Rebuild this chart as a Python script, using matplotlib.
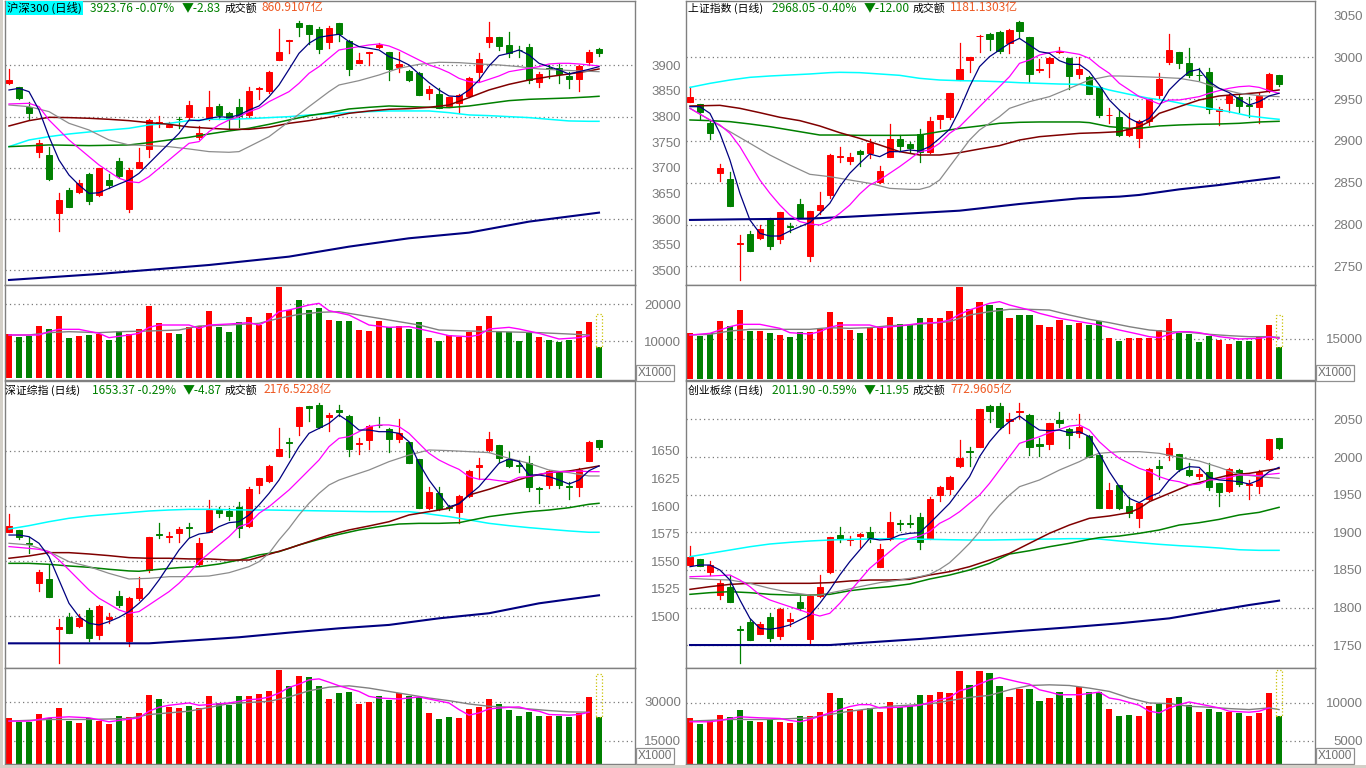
import matplotlib
matplotlib.use("Agg")
import matplotlib.pyplot as plt
from matplotlib.patches import Rectangle

plt.rcParams["font.family"] = ["Liberation Sans", "Noto Sans CJK SC", "DejaVu Sans"]

W, H = 1366, 768
RED = "#FF0000"
GREEN = "#008000"
FRAME = "#808080"
LABEL = "#7A7A7A"
AMOUNT = "#EE5A24"
CJK = ["Noto Sans CJK SC", "DejaVu Sans"]

# ---------------- 沪深300 ----------------
hs_open = [3864.9, 3857.1, 3819.4, 3731.7, 3725.1, 3611.4, 3656.9, 3653.7, 3688.1, 3647.2,
           3676.4, 3713.5, 3619.9, 3700.5, 3737.5, 3787.6, 3780.4, 3796.0, 3798.6, 3759.6,
           3795.3, 3820.7, 3806.4, 3818.1, 3803.2, 3853.2, 3849.9, 3910.4, 3946.8, 3982.5,
           3978.7, 3970.9, 3946.2, 3982.5, 3947.5, 3905.2, 3924.7, 3935.1, 3926.0, 3897.4,
           3889.6, 3885.0, 3845.4, 3844.1, 3820.7, 3825.9, 3840.8, 3887.6, 3946.2, 3954.6,
           3939.7, 3930.6, 3935.1, 3868.2, 3895.5, 3894.1, 3879.2, 3873.4, 3906.5, 3931.9]
hs_high = [3892.9, 3858.0, 3829.1, 3754.4, 3741.4, 3651.7, 3660.2, 3676.4, 3690.7, 3700.5,
           3688.1, 3720.0, 3699.2, 3738.2, 3794.7, 3801.2, 3790.2, 3799.9, 3831.1, 3781.7,
           3850.6, 3824.6, 3809.7, 3833.7, 3857.1, 3857.1, 3888.3, 3970.2, 3949.4, 3986.4,
           3978.7, 3975.4, 3976.7, 3982.5, 3949.4, 3923.4, 3926.6, 3942.9, 3926.0, 3926.6,
           3890.9, 3886.3, 3860.4, 3855.1, 3838.9, 3844.1, 3876.6, 3923.4, 3984.5, 3955.9,
           3964.4, 3937.7, 3941.6, 3887.6, 3900.7, 3902.6, 3887.6, 3900.0, 3929.9, 3933.2]
hs_low = [3863.0, 3833.7, 3794.7, 3721.9, 3676.4, 3577.6, 3624.0, 3650.4, 3629.6, 3645.2,
          3660.2, 3682.9, 3614.7, 3699.2, 3721.9, 3780.4, 3779.1, 3777.2, 3793.4, 3755.7,
          3793.4, 3794.7, 3777.2, 3780.4, 3799.9, 3833.7, 3846.7, 3910.4, 3924.7, 3957.2,
          3941.6, 3924.7, 3934.5, 3948.1, 3881.1, 3905.2, 3900.0, 3934.5, 3871.4, 3887.6,
          3870.1, 3842.1, 3834.4, 3816.2, 3819.4, 3807.7, 3838.9, 3870.1, 3936.4, 3929.9,
          3916.9, 3915.6, 3866.2, 3858.4, 3874.6, 3864.9, 3855.1, 3850.6, 3900.7, 3918.9]
hs_close = [3871.4, 3837.0, 3807.7, 3747.9, 3677.7, 3637.4, 3624.4, 3671.2, 3636.1, 3699.2,
            3667.3, 3684.9, 3695.9, 3711.5, 3793.4, 3789.5, 3783.7, 3794.7, 3822.0, 3768.7,
            3818.1, 3803.2, 3794.7, 3801.2, 3849.9, 3855.8, 3887.0, 3926.0, 3948.8, 3975.4,
            3961.8, 3932.5, 3972.8, 3960.5, 3892.9, 3910.4, 3926.0, 3939.0, 3892.2, 3902.6,
            3871.4, 3842.8, 3853.9, 3817.5, 3837.6, 3842.8, 3874.6, 3911.7, 3954.6, 3938.4,
            3924.7, 3929.3, 3871.4, 3883.1, 3893.5, 3883.1, 3873.4, 3898.7, 3926.59, 3923.76]
hs_vol = [11973, 11162, 11432, 14135, 13324, 16838, 10892, 11432, 11703, 11973,
          10351, 12784, 11973, 13405, 19540, 14946, 12243, 11973, 13865, 14135,
          18189, 13865, 12514, 15216, 16568, 14405, 17649, 24676, 18459, 21162,
          18459, 19000, 15757, 15486, 15486, 13054, 12784, 15486, 13865, 14135,
          13324, 15216, 10892, 10081, 11703, 11162, 12514, 14135, 16838, 12514,
          12514, 10081, 12243, 11162, 10351, 9811, 10351, 12784, 15216, 8459]
hs_ma5 = [3851.9, 3855.1, 3848.6, 3812.8, 3760.8, 3715.3, 3686.0, 3666.5, 3650.2, 3651.5,
          3660.0, 3668.5, 3676.3, 3689.3, 3708.8, 3728.3, 3747.8, 3767.3, 3793.3, 3792.0,
          3796.6, 3799.8, 3798.5, 3803.1, 3812.8, 3820.7, 3838.9, 3861.6, 3892.2, 3923.4,
          3942.9, 3954.6, 3957.9, 3960.5, 3946.2, 3936.4, 3933.2, 3929.9, 3916.9, 3910.4,
          3900.7, 3883.1, 3866.2, 3851.9, 3840.2, 3838.9, 3851.9, 3871.4, 3898.7, 3918.9,
          3923.4, 3929.9, 3920.2, 3903.9, 3897.4, 3890.9, 3883.1, 3887.6, 3892.2, 3897.4]
hs_ma10_i = [0] + list(range(2, 60))
hs_ma10 = [3824.6, 3825.9, 3819.4, 3793.4, 3773.9, 3754.4, 3738.2, 3721.9, 3705.7, 3692.7,
           3679.7, 3673.2, 3671.2, 3682.9, 3699.2, 3715.4, 3731.7, 3747.9, 3751.2, 3770.7,
           3783.7, 3793.4, 3799.9, 3809.7, 3816.2, 3829.1, 3838.9, 3848.6, 3864.9, 3884.4,
           3897.4, 3913.7, 3929.9, 3933.2, 3936.4, 3939.7, 3941.6, 3937.7, 3929.9, 3920.2,
           3910.4, 3900.7, 3894.2, 3885.7, 3874.6, 3868.2, 3866.2, 3872.7, 3879.2, 3887.6,
           3890.9, 3894.2, 3897.4, 3902.6, 3903.9, 3903.9, 3902.6, 3900.7, 3898.7]
hs_ma20_i = [0, 2, 4, 6, 8, 10, 12, 14, 16, 18, 20, 22, 23, 24, 26, 28, 30, 32, 33, 35,
             37, 39, 41, 43, 45, 47, 49, 51, 53, 55, 57, 59]
hs_ma20 = [3822.6, 3819.4, 3809.7, 3786.9, 3773.9, 3754.4, 3744.7, 3743.4, 3741.4, 3736.9,
           3731.7, 3730.4, 3731.7, 3741.4, 3760.9, 3790.2, 3819.4, 3848.6, 3861.6, 3870.1,
           3881.1, 3894.2, 3901.9, 3905.9, 3905.2, 3902.6, 3900.7, 3897.4, 3892.9, 3890.9,
           3889.0, 3887.6]
hs_mar_i = list(range(0, 60, 2)) + [59]
hs_mar = [3781.7, 3792.1, 3798.6, 3798.0, 3796.7, 3794.7, 3792.1, 3788.2, 3785.0, 3779.8,
          3777.2, 3775.2, 3775.2, 3779.1, 3786.9, 3792.1, 3798.6, 3806.4, 3810.9, 3814.2,
          3815.5, 3818.1, 3822.6, 3837.0, 3851.9, 3862.9, 3871.4, 3877.9, 3883.1, 3889.0,
          3892.9]
hs_mag_i = [0, 4, 8] + list(range(12, 60, 2)) + [59]
hs_mag = [3741.4, 3744.7, 3743.4, 3744.7, 3749.2, 3754.4, 3759.6, 3766.1, 3772.0, 3777.2,
          3784.9, 3793.4, 3801.9, 3807.7, 3814.9, 3818.1, 3820.7, 3819.4, 3818.1, 3817.5,
          3820.7, 3825.9, 3831.1, 3833.7, 3835.0, 3836.3, 3838.3, 3839.6]
hs_mac_i = list(range(0, 60, 2)) + [59]
hs_mac = [3741.4, 3754.4, 3760.9, 3766.1, 3770.0, 3773.9, 3777.2, 3783.7, 3786.9, 3792.1,
          3794.7, 3794.7, 3796.0, 3798.0, 3799.9, 3803.2, 3805.1, 3807.7, 3809.7, 3811.0,
          3811.0, 3811.0, 3807.7, 3803.2, 3801.9, 3799.9, 3798.0, 3794.7, 3791.5, 3790.8,
          3790.8]
hs_mal_i = [0, 9, 20, 28, 34, 40, 46, 52, 59]
hs_mal = [3481.4, 3493.1, 3510.6, 3526.9, 3546.4, 3562.7, 3573.7, 3595.2, 3612.7]
hs_vma5_i = [0, 3, 4, 5, 7, 9, 10, 12, 13, 14, 15, 18, 19, 20, 22, 24, 25, 26, 27, 28,
             30, 31, 32, 34, 36, 38, 40, 42, 44, 46, 47, 48, 50, 51, 53, 55, 57, 58]
hs_vma5 = [11703, 11703, 12604, 13234, 13234, 12154, 10982, 11703, 12154, 13775,
           14405, 14405, 13505, 14405, 14676, 15036, 14405, 15757, 18009, 18459,
           19811, 20261, 18279, 17108, 14405, 13775, 13955, 12784, 11523, 11252,
           11703, 13324, 13775, 13324, 12154, 10622, 10982, 11523]
hs_vma10_i = [0, 2, 4, 6, 9, 11, 14, 17, 19, 22, 25, 27, 29, 31, 33, 35, 38, 41, 43, 46,
              49, 53, 56, 58]
hs_vma10 = [11703, 11703, 12333, 12604, 12333, 12604, 12784, 13054, 14135, 14405,
            14857, 16208, 17289, 17829, 18009, 17108, 15757, 14405, 13054, 12784,
            12604, 12333, 11973, 11703]

# ---------------- 上证指数 ----------------
sh_open = [2947.0, 2943.8, 2921.9, 2862.1, 2854.1, 2776.8, 2788.3, 2783.5, 2806.7, 2782.3,
           2797.9, 2824.2, 2762.8, 2817.4, 2835.4, 2880.8, 2876.0, 2888.4, 2885.2, 2850.9,
           2880.4, 2901.9, 2896.4, 2907.9, 2887.2, 2926.7, 2928.3, 2972.9, 2997.2, 3025.1,
           3027.9, 3030.3, 3017.6, 3042.3, 3023.9, 2985.3, 2992.8, 3006.4, 2998.8, 2980.1,
           2976.9, 2964.1, 2930.6, 2928.3, 2907.1, 2903.1, 2924.3, 2955.0, 2994.8, 3006.0,
           2993.6, 2979.3, 2982.9, 2936.2, 2945.8, 2953.0, 2943.0, 2941.0, 2961.0, 2978.9]
sh_high = [2964.9, 2943.8, 2925.1, 2872.4, 2863.3, 2787.5, 2792.3, 2799.5, 2807.5, 2815.4,
           2802.3, 2830.2, 2816.6, 2839.3, 2884.4, 2893.2, 2885.2, 2889.2, 2901.9, 2870.4,
           2919.9, 2907.1, 2899.2, 2913.9, 2929.1, 2931.0, 2957.8, 3016.8, 3000.8, 3026.7,
           3028.7, 3031.5, 3033.5, 3043.5, 3023.9, 2997.6, 3000.0, 3012.8, 2998.8, 3000.0,
           2977.7, 2964.9, 2939.0, 2937.0, 2933.0, 2925.1, 2951.8, 2980.9, 3027.5, 3006.8,
           3010.8, 2986.9, 2986.9, 2941.0, 2956.2, 2956.2, 2953.0, 2957.0, 2980.9, 2978.9]
sh_low = [2947.0, 2926.7, 2902.7, 2852.1, 2822.6, 2733.7, 2768.8, 2782.3, 2770.8, 2777.5,
          2791.5, 2808.6, 2756.8, 2812.6, 2831.4, 2875.2, 2872.4, 2870.4, 2880.0, 2849.3,
          2880.4, 2889.2, 2887.2, 2875.2, 2885.2, 2915.1, 2925.9, 2972.9, 2982.9, 3006.8,
          3008.8, 3004.8, 3005.6, 3024.7, 2970.9, 2982.9, 2976.1, 3004.8, 2961.7, 2974.9,
          2956.2, 2929.1, 2921.9, 2906.3, 2905.9, 2892.4, 2919.1, 2949.8, 2992.0, 2987.7,
          2976.9, 2972.9, 2933.8, 2919.1, 2935.0, 2935.0, 2928.3, 2921.1, 2959.0, 2965.7]
sh_close = [2952.2, 2934.6, 2909.9, 2867.3, 2822.6, 2777.5, 2768.8, 2794.7, 2774.8, 2814.6,
            2797.1, 2808.6, 2816.2, 2823.4, 2883.2, 2881.6, 2880.4, 2884.0, 2897.2, 2864.1,
            2901.9, 2894.4, 2892.0, 2887.2, 2923.9, 2930.6, 2957.0, 2986.1, 3000.0, 3025.9,
            3022.0, 3008.0, 3032.7, 3031.9, 2980.1, 2986.1, 2998.8, 3007.2, 2978.1, 2985.7,
            2956.2, 2931.0, 2931.4, 2907.1, 2915.1, 2924.3, 2949.8, 2974.1, 3008.8, 2992.8,
            2978.9, 2978.5, 2938.6, 2938.2, 2954.2, 2941.8, 2942.2, 2954.2, 2980.05, 2968.05]
sh_vol = [17233, 16240, 17233, 21699, 19838, 25793, 18101, 17977, 17233, 16488,
          15744, 17605, 17605, 18845, 25049, 21327, 18473, 17233, 19466, 19466,
          23188, 20583, 20210, 22816, 22816, 22816, 25421, 34354, 26166, 28894,
          27654, 26538, 22816, 23932, 23932, 20210, 19466, 22071, 20210, 20955,
          20210, 21699, 15372, 14255, 15372, 15372, 15372, 18349, 22443, 17233,
          16861, 13883, 16116, 14627, 13138, 14255, 14255, 16116, 20210, 12022]
sh_ma5 = [2941.0, 2941.0, 2933.0, 2909.1, 2877.2, 2837.4, 2805.5, 2789.5, 2786.3, 2786.3,
          2792.3, 2797.5, 2802.3, 2813.4, 2825.4, 2845.3, 2861.3, 2873.2, 2884.4, 2881.2,
          2887.2, 2887.2, 2889.2, 2888.0, 2893.2, 2903.1, 2913.9, 2937.0, 2964.9, 2988.9,
          3000.8, 3008.8, 3016.8, 3022.7, 3014.8, 3006.8, 3004.8, 2996.0, 2991.6, 2991.6,
          2982.9, 2966.9, 2949.0, 2937.0, 2927.1, 2921.1, 2927.1, 2941.8, 2961.0, 2972.9,
          2982.9, 2985.7, 2970.9, 2963.0, 2957.8, 2949.8, 2943.0, 2947.0, 2953.8, 2957.0]
sh_ma10_i = [0] + list(range(2, 60))
sh_ma10 = [2939.0, 2925.1, 2919.1, 2909.1, 2893.2, 2873.2, 2853.3, 2837.4, 2823.4, 2811.4,
           2803.5, 2800.7, 2799.5, 2804.7, 2813.4, 2823.4, 2836.6, 2847.3, 2853.3, 2861.3,
           2869.3, 2878.0, 2887.2, 2889.2, 2897.2, 2909.1, 2917.1, 2929.1, 2941.0, 2953.0,
           2964.9, 2976.9, 2992.8, 2996.8, 3002.8, 3005.6, 3007.6, 3005.6, 3003.6, 2998.8,
           2988.9, 2980.9, 2968.9, 2961.0, 2953.0, 2949.0, 2944.2, 2949.0, 2949.0, 2951.0,
           2953.0, 2957.0, 2960.2, 2963.0, 2964.9, 2965.7, 2964.1, 2960.2, 2957.0]
sh_ma20_i = [0, 2, 4, 6, 8, 10, 12, 14, 16, 18, 20, 22, 23, 24, 25, 26, 27, 28, 29, 30,
             31, 32, 33, 34, 36, 38, 40, 42, 43, 45, 47, 49, 51, 53, 55, 57, 59]
sh_ma20 = [2939.0, 2925.1, 2911.1, 2897.2, 2883.2, 2871.2, 2860.1, 2857.3, 2853.3, 2849.3,
           2843.3, 2842.1, 2842.1, 2845.3, 2853.3, 2869.3, 2885.2, 2901.1, 2913.1, 2921.1,
           2929.1, 2939.0, 2943.0, 2947.0, 2953.0, 2962.9, 2972.9, 2977.7, 2977.7, 2976.9,
           2976.1, 2974.9, 2970.9, 2962.9, 2957.0, 2954.2, 2953.0]
sh_mar_i = [0, 3, 5, 7, 9, 11, 13, 15, 17, 19, 21, 23, 25, 27, 29, 31, 33, 35, 37, 39,
            41, 43, 45, 46, 47, 49, 51, 53, 55, 57, 59]
sh_mar = [2941.8, 2942.6, 2939.0, 2933.8, 2928.3, 2924.3, 2917.9, 2909.9, 2903.1, 2895.2,
          2887.2, 2883.2, 2883.2, 2886.0, 2890.4, 2894.4, 2901.1, 2905.1, 2907.1, 2909.1,
          2909.9, 2911.1, 2917.1, 2923.1, 2933.0, 2941.0, 2949.0, 2953.8, 2955.8, 2957.8,
          2961.0]
sh_mag_i = [0, 2, 4, 6, 8, 10, 12, 13, 15, 17, 19, 21, 23, 25, 27, 29, 31, 33, 35, 37,
            39, 40, 42, 44, 45, 47, 49, 51, 53, 55, 57, 59]
sh_mag = [2925.1, 2924.3, 2923.1, 2920.3, 2917.1, 2913.1, 2909.1, 2907.1, 2907.1, 2906.7,
          2906.7, 2906.7, 2907.1, 2911.1, 2915.1, 2917.9, 2921.1, 2922.3, 2922.7, 2922.7,
          2922.7, 2921.9, 2917.1, 2915.1, 2915.1, 2917.9, 2919.1, 2919.9, 2920.3, 2921.1,
          2922.7, 2923.5]
sh_mac_i = [0, 2, 4, 6, 8, 10, 12, 14, 15, 17, 19, 21, 23, 25, 27, 29, 31, 33, 35, 37,
            39, 41, 42, 44, 46, 48, 50, 52, 54, 56, 58, 59]
sh_mac = [2964.1, 2968.9, 2972.9, 2976.1, 2977.7, 2978.9, 2980.1, 2981.7, 2982.1, 2981.7,
          2980.1, 2978.5, 2974.9, 2972.9, 2972.1, 2971.7, 2970.9, 2969.7, 2968.9, 2968.1,
          2967.7, 2964.1, 2960.9, 2955.8, 2951.0, 2947.8, 2943.0, 2939.0, 2935.0, 2929.9,
          2927.1, 2925.9]
sh_mal_i = [0, 5, 12, 16, 21, 27, 33, 39, 43, 45, 49, 53, 56, 59]
sh_mal = [2805.5, 2806.3, 2807.1, 2809.4, 2812.6, 2816.6, 2824.6, 2831.4, 2833.4, 2835.4,
          2842.1, 2847.3, 2852.1, 2856.5]
sh_vma5_i = [0, 2, 4, 5, 7, 9, 10, 12, 13, 14, 15, 18, 19, 21, 23, 25, 26, 27, 28, 30,
             31, 32, 34, 35, 37, 39, 41, 43, 45, 46, 47, 48, 49, 50, 51, 53, 55, 57, 58, 59]
sh_vma5 = [16488, 17109, 19590, 20459, 20459, 18970, 17357, 16861, 17729, 19343,
           20210, 20210, 19218, 19838, 20831, 21203, 22071, 24181, 25793, 28275,
           28894, 27654, 25793, 24554, 22692, 21451, 20210, 18349, 16737, 15868,
           15496, 16737, 17729, 17729, 17357, 15868, 15000, 15248, 15868, 15248]
sh_vma10_i = list(range(0, 60, 2)) + [59]
sh_vma10 = [16488, 16737, 17977, 18597, 18597, 18597, 18597, 19218, 18970, 19218,
            19962, 20210, 20831, 21451, 23932, 25172, 26041, 26041, 25793, 23932,
            22320, 21079, 19590, 18349, 17729, 17481, 16737, 16240, 15868, 15868, 15620]

# ---------------- 深证综指 ----------------
sz_open = [1576.8, 1578.3, 1566.8, 1529.9, 1533.8, 1488.7, 1499.0, 1491.2, 1505.7, 1483.0,
           1497.8, 1518.4, 1477.8, 1516.6, 1542.0, 1575.0, 1571.6, 1575.9, 1580.7, 1547.4,
           1576.8, 1596.4, 1595.8, 1598.8, 1581.9, 1619.1, 1623.0, 1645.7, 1658.4, 1672.7,
           1690.8, 1691.7, 1680.5, 1687.2, 1681.7, 1656.0, 1660.0, 1673.9, 1670.2, 1661.2,
           1658.4, 1643.0, 1597.9, 1611.6, 1599.4, 1594.9, 1609.1, 1635.8, 1650.9, 1655.4,
           1642.7, 1636.9, 1638.8, 1616.7, 1619.1, 1630.6, 1618.2, 1617.6, 1641.2, 1659.9]
sz_high = [1592.8, 1578.3, 1572.2, 1542.0, 1546.5, 1497.2, 1502.7, 1502.1, 1507.2, 1509.9,
           1502.7, 1523.2, 1517.2, 1535.9, 1572.2, 1584.3, 1576.8, 1581.3, 1584.9, 1570.7,
           1605.5, 1599.4, 1597.9, 1604.0, 1617.0, 1625.8, 1637.3, 1670.5, 1661.5, 1690.2,
           1690.8, 1693.2, 1684.8, 1691.7, 1682.3, 1661.5, 1673.6, 1680.5, 1671.1, 1678.7,
           1658.4, 1643.0, 1617.6, 1617.6, 1601.0, 1610.0, 1632.7, 1643.3, 1667.5, 1655.4,
           1649.4, 1641.8, 1645.4, 1617.6, 1632.7, 1631.2, 1622.1, 1634.2, 1659.0, 1659.9]
sz_low = [1576.8, 1569.8, 1557.1, 1523.2, 1517.8, 1457.9, 1484.5, 1490.6, 1477.8, 1479.6,
          1494.2, 1508.7, 1473.3, 1514.8, 1540.5, 1570.7, 1567.7, 1567.7, 1572.2, 1546.5,
          1576.8, 1590.4, 1587.4, 1571.6, 1581.3, 1611.5, 1622.1, 1645.4, 1644.8, 1664.5,
          1677.5, 1670.5, 1668.4, 1681.7, 1645.4, 1647.2, 1652.1, 1672.1, 1648.8, 1658.4,
          1638.8, 1598.5, 1597.0, 1596.4, 1596.4, 1584.9, 1608.5, 1624.3, 1649.4, 1640.3,
          1635.1, 1631.2, 1614.0, 1603.1, 1616.1, 1616.1, 1606.1, 1609.4, 1640.9, 1651.8]
sz_close = [1581.9, 1572.2, 1565.6, 1539.9, 1517.8, 1489.9, 1484.5, 1498.4, 1480.0, 1509.3,
            1499.0, 1509.9, 1516.3, 1525.6, 1572.2, 1574.0, 1573.1, 1579.2, 1580.1, 1566.8,
            1596.4, 1594.0, 1591.0, 1579.8, 1615.2, 1625.2, 1636.4, 1651.5, 1657.5, 1689.6,
            1688.7, 1672.1, 1682.6, 1685.7, 1652.1, 1657.5, 1672.7, 1673.3, 1660.9, 1666.0,
            1639.4, 1598.5, 1612.5, 1597.0, 1597.9, 1609.1, 1632.1, 1637.3, 1660.6, 1643.3,
            1636.4, 1636.4, 1617.6, 1615.8, 1631.8, 1619.1, 1617.0, 1632.7, 1658.24, 1653.37]
sz_vol = [23719, 22052, 22309, 25514, 23847, 27821, 22437, 21668, 23591, 22437,
          21283, 24744, 23975, 25898, 32821, 31283, 28206, 27821, 28590, 27821,
          32436, 29744, 28975, 32436, 32436, 33206, 34359, 42436, 36282, 40128,
          39744, 36282, 31283, 33590, 33975, 29359, 30129, 32436, 30898, 33590,
          32436, 32052, 25898, 23206, 23975, 23591, 27437, 28206, 31283, 29359,
          27052, 24360, 26283, 24360, 24744, 24744, 23975, 25898, 32052, 23975]
sz_ma5 = [1573.7, 1573.7, 1572.2, 1566.2, 1554.1, 1532.9, 1511.7, 1499.6, 1493.6, 1492.1,
          1495.1, 1499.0, 1504.2, 1511.7, 1520.8, 1532.9, 1546.5, 1560.1, 1570.7, 1574.6,
          1575.9, 1581.3, 1584.9, 1585.8, 1591.9, 1601.0, 1611.5, 1623.6, 1638.8, 1653.9,
          1666.0, 1670.5, 1675.1, 1682.6, 1676.6, 1669.0, 1669.0, 1667.5, 1667.5, 1666.0,
          1658.4, 1638.8, 1623.6, 1611.5, 1599.4, 1601.9, 1610.0, 1617.6, 1628.2, 1638.8,
          1642.7, 1640.3, 1628.2, 1628.2, 1626.7, 1623.6, 1620.0, 1623.6, 1632.1, 1636.4]
sz_ma10_i = [0] + list(range(2, 60))
sz_ma10 = [1563.2, 1561.6, 1560.7, 1558.6, 1551.0, 1542.0, 1532.9, 1523.8, 1516.3, 1511.1,
           1505.7, 1502.7, 1504.2, 1510.2, 1516.3, 1522.3, 1529.9, 1538.9, 1549.5, 1557.1,
           1564.7, 1572.2, 1581.3, 1584.3, 1593.4, 1599.4, 1607.0, 1614.6, 1623.6, 1632.7,
           1641.8, 1653.9, 1661.5, 1663.0, 1667.5, 1672.1, 1673.6, 1673.6, 1672.1, 1666.0,
           1656.9, 1647.9, 1641.8, 1637.3, 1633.3, 1626.7, 1624.3, 1624.3, 1623.0, 1622.1,
           1626.1, 1626.7, 1628.8, 1630.3, 1631.2, 1631.2, 1631.8, 1631.2, 1631.2]
sz_ma20_i = [0, 2, 4, 6, 8, 10, 12, 14, 16, 18, 20, 22, 24, 25, 26, 27, 28, 29, 30, 31,
             32, 33, 34, 36, 38, 40, 42, 44, 46, 48, 50, 52, 54, 56, 58, 59]
sz_ma20 = [1566.2, 1564.7, 1558.6, 1549.5, 1545.0, 1538.9, 1533.8, 1534.4, 1535.9, 1535.9,
           1536.5, 1539.5, 1545.0, 1549.5, 1557.1, 1569.2, 1579.8, 1591.9, 1602.5, 1611.5,
           1619.1, 1623.6, 1626.7, 1632.7, 1640.3, 1646.3, 1650.9, 1650.3, 1649.4, 1648.5,
           1643.3, 1638.8, 1632.7, 1630.3, 1627.3, 1627.3]
sz_mar_i = list(range(0, 46, 2)) + [45, 46, 48, 50, 52, 54, 56, 58, 59]
sz_mar = [1552.6, 1554.7, 1557.7, 1557.7, 1556.5, 1555.0, 1553.2, 1552.6, 1552.6, 1552.0,
          1552.0, 1551.0, 1551.0, 1556.2, 1561.6, 1567.7, 1573.7, 1578.3, 1581.9, 1585.8,
          1591.9, 1594.9, 1597.9, 1602.5, 1610.0, 1615.2, 1621.2, 1626.7, 1630.3, 1631.8,
          1634.8, 1636.4]
sz_mag_i = [0, 2, 4, 6, 8, 10, 12, 13, 15, 17, 19, 21, 23, 25, 27, 29, 31, 33, 35, 37,
            39, 41, 43, 45, 46, 48, 50, 52, 54, 56, 58, 59]
sz_mag = [1548.0, 1548.0, 1547.1, 1545.6, 1544.4, 1542.6, 1541.1, 1540.8, 1542.6, 1544.1,
          1545.0, 1547.4, 1551.0, 1555.6, 1558.6, 1564.7, 1569.8, 1574.3, 1578.3, 1581.3,
          1583.7, 1584.3, 1584.3, 1584.9, 1586.8, 1590.4, 1592.8, 1594.9, 1596.4, 1598.5,
          1601.6, 1602.5]
sz_mac_i = list(range(0, 42, 2)) + [41] + list(range(42, 60, 2)) + [59]
sz_mac = [1579.2, 1582.2, 1585.8, 1588.9, 1591.0, 1592.5, 1594.0, 1595.5, 1596.4, 1597.0,
          1597.0, 1596.7, 1596.4, 1596.4, 1596.1, 1595.8, 1595.5, 1595.2, 1594.9, 1594.9,
          1594.9, 1594.0, 1592.8, 1590.4, 1587.4, 1584.3, 1582.2, 1580.4, 1578.9, 1577.4,
          1576.2, 1576.2]
sz_mal_i = [0, 14, 18, 23, 28, 33, 38, 43, 48, 53, 56, 59]
sz_mal = [1475.4, 1475.4, 1477.8, 1480.9, 1485.1, 1489.0, 1492.1, 1498.1, 1502.7, 1511.7,
          1515.4, 1519.0]
sz_vma5_i = [0, 2, 3, 4, 6, 8, 10, 11, 13, 14, 15, 16, 18, 19, 20, 22, 24, 25, 26, 27,
             28, 29, 30, 31, 32, 33, 35, 36, 37, 39, 40, 41, 42, 44, 45, 46, 47, 48, 50, 51,
             52, 53, 54, 56, 57, 58]
sz_vma5 = [22565, 22565, 23206, 23847, 24232, 23847, 22309, 22822, 23847, 26411,
           27949, 28718, 29616, 28718, 28975, 29616, 30898, 31155, 31924, 33462,
           35641, 36923, 38590, 38974, 37693, 36282, 34103, 32180, 31539, 31155,
           31539, 31924, 31155, 29616, 27052, 24872, 25770, 27308, 27949, 28077,
           27052, 26411, 25129, 24872, 25129, 26026]
sz_vma10_i = [0, 4, 8, 12, 14, 18, 22, 26, 28, 30, 32, 34, 36, 38, 40, 42, 44, 46, 48, 50,
              52, 54, 56, 58]
sz_vma10 = [22565, 23206, 23206, 23591, 25129, 26411, 29359, 30257, 31924, 34359,
            35770, 36282, 35385, 34103, 32821, 31539, 30513, 29231, 28334, 27949,
            27308, 26667, 26155, 26026]

# ---------------- 创业板综 ----------------
cy_open = [1856.6, 1864.1, 1847.8, 1816.8, 1827.0, 1771.6, 1780.5, 1765.0, 1787.1, 1762.4,
           1782.7, 1807.9, 1757.9, 1815.5, 1847.8, 1896.4, 1889.8, 1895.5, 1900.0, 1854.4,
           1890.7, 1912.4, 1912.4, 1919.9, 1891.1, 1949.5, 1957.1, 1988.5, 2008.4, 2013.7,
           2067.7, 2067.7, 2048.2, 2059.7, 2055.7, 2017.2, 2017.2, 2049.1, 2036.7, 2031.4,
           2027.9, 2002.6, 1931.8, 1962.8, 1934.9, 1918.6, 1943.8, 1988.0, 2002.6, 2004.0,
           1982.7, 1975.2, 1980.1, 1965.9, 1955.3, 1982.7, 1963.0, 1961.5, 1996.9, 2024.8]
cy_high = [1882.3, 1864.1, 1861.9, 1836.7, 1843.3, 1775.6, 1784.5, 1781.4, 1792.4, 1799.1,
           1792.4, 1815.5, 1816.8, 1843.3, 1894.2, 1906.6, 1895.1, 1899.5, 1907.5, 1884.0,
           1926.5, 1916.4, 1923.0, 1926.1, 1947.3, 1961.5, 1974.8, 2022.6, 2013.7, 2064.1,
           2069.0, 2071.2, 2058.8, 2071.2, 2056.6, 2024.8, 2045.6, 2059.3, 2038.0, 2057.1,
           2029.2, 2002.6, 1965.0, 1962.8, 1947.3, 1940.7, 1984.9, 1996.0, 2018.1, 2004.0,
           1992.5, 1983.6, 1991.6, 1965.9, 1984.9, 1984.5, 1969.5, 1982.7, 2023.4, 2025.6]
cy_low = [1856.6, 1855.3, 1843.3, 1811.0, 1807.9, 1727.0, 1757.0, 1765.0, 1756.2, 1757.9,
          1775.6, 1796.9, 1753.5, 1814.6, 1845.5, 1886.7, 1883.2, 1881.0, 1887.6, 1853.5,
          1889.8, 1903.1, 1906.6, 1877.4, 1890.7, 1942.0, 1950.9, 1987.2, 1988.0, 2013.7,
          2046.9, 2037.2, 2032.3, 2051.3, 2002.6, 2001.3, 2010.6, 2040.3, 2012.4, 2026.1,
          2000.4, 1931.8, 1931.8, 1930.5, 1920.8, 1907.5, 1942.0, 1970.3, 1996.0, 1981.8,
          1974.8, 1970.3, 1956.2, 1934.9, 1954.0, 1961.5, 1943.8, 1952.6, 1996.0, 2010.2]
cy_close = [1866.8, 1855.7, 1856.6, 1832.3, 1807.9, 1770.3, 1757.0, 1777.9, 1759.3, 1798.2,
            1784.5, 1799.1, 1815.9, 1827.0, 1893.3, 1890.7, 1891.1, 1897.8, 1892.9, 1877.9,
            1913.3, 1911.0, 1911.0, 1887.6, 1944.2, 1960.6, 1973.9, 1998.2, 2007.1, 2063.3,
            2061.5, 2040.2, 2050.0, 2060.6, 2013.7, 2014.6, 2044.7, 2045.6, 2029.2, 2040.3,
            2000.4, 1931.8, 1956.2, 1931.8, 1925.2, 1939.4, 1983.6, 1984.9, 2011.5, 1983.6,
            1976.1, 1977.0, 1960.6, 1954.0, 1983.6, 1963.7, 1963.9, 1979.6, 2023.85, 2011.90]
cy_vol = [7956, 7174, 7695, 8478, 8087, 9130, 7565, 7434, 7695, 7434,
          7304, 8348, 8217, 8869, 11348, 10695, 9261, 9130, 9391, 8869,
          10174, 9522, 9652, 11087, 11087, 11478, 11348, 14217, 12391, 14217,
          13956, 12261, 10826, 11869, 11869, 10304, 10695, 11478, 10695, 12130,
          11478, 11478, 9261, 8217, 8478, 8217, 9652, 9913, 10695, 10826,
          9782, 8869, 9261, 8869, 8869, 8739, 8348, 8739, 11348, 8348]
cy_ma5 = [1854.4, 1856.6, 1856.6, 1850.0, 1836.7, 1810.2, 1785.8, 1772.5, 1771.2, 1773.4,
          1777.0, 1783.6, 1790.2, 1805.7, 1823.4, 1843.3, 1861.0, 1876.5, 1892.0, 1889.8,
          1890.7, 1896.4, 1898.7, 1899.5, 1911.9, 1925.2, 1938.5, 1956.2, 1973.9, 2000.4,
          2020.3, 2035.8, 2046.9, 2054.4, 2044.7, 2035.8, 2034.9, 2035.8, 2032.3, 2033.6,
          2027.0, 2004.9, 1980.5, 1960.6, 1945.1, 1939.4, 1947.3, 1952.6, 1969.5, 1981.8,
          1987.2, 1986.3, 1973.0, 1969.5, 1968.6, 1967.2, 1964.1, 1969.5, 1980.5, 1986.3]
cy_ma10_i = [0, 2] + list(range(4, 60))
cy_ma10 = [1841.1, 1842.0, 1843.3, 1836.7, 1827.9, 1816.8, 1810.2, 1805.7, 1801.3, 1796.9,
           1792.5, 1788.9, 1792.5, 1805.7, 1821.2, 1836.7, 1852.2, 1863.2, 1874.3, 1885.4,
           1892.0, 1895.1, 1900.9, 1911.9, 1918.6, 1927.4, 1938.5, 1949.5, 1965.0, 1982.7,
           2000.4, 2018.1, 2022.6, 2027.0, 2032.3, 2036.7, 2041.1, 2042.5, 2035.8, 2020.3,
           2008.4, 1998.2, 1991.6, 1984.9, 1980.5, 1973.9, 1969.5, 1967.2, 1962.8, 1964.1,
           1969.5, 1970.3, 1973.0, 1976.1, 1976.1, 1975.2, 1977.0, 1978.3]
cy_ma20_i = [0, 2, 4, 6, 8, 10, 12, 13, 15, 17, 19, 21, 23, 24, 25, 26, 27, 28, 29, 30,
             31, 32, 33, 35, 37, 39, 40, 41, 43, 45, 47, 49, 51, 53, 55, 57, 59]
cy_ma20 = [1838.9, 1837.6, 1836.7, 1832.3, 1825.6, 1820.3, 1816.8, 1816.8, 1822.1, 1827.9,
           1833.2, 1836.7, 1841.1, 1844.2, 1850.9, 1859.7, 1872.1, 1885.4, 1900.9, 1920.8,
           1936.3, 1949.5, 1960.6, 1969.5, 1982.7, 1993.8, 2000.4, 2004.9, 2007.1, 2007.1,
           2004.9, 1999.5, 1994.7, 1986.3, 1977.0, 1973.9, 1971.7]
cy_mar_i = list(range(0, 46, 2)) + [45, 46, 48, 50, 52, 54, 56, 58, 59]
cy_mar = [1824.3, 1827.9, 1830.9, 1832.3, 1832.3, 1832.3, 1832.3, 1833.2, 1835.4, 1836.7,
          1836.7, 1837.6, 1843.3, 1847.8, 1854.4, 1863.2, 1872.1, 1885.4, 1898.7, 1909.7,
          1918.6, 1921.7, 1926.1, 1931.8, 1940.7, 1951.7, 1962.8, 1969.5, 1976.1, 1978.3,
          1982.7, 1984.9]
cy_mag_i = list(range(0, 42, 2)) + list(range(41, 60, 2))
cy_mag = [1817.7, 1819.9, 1821.2, 1819.9, 1817.7, 1816.8, 1816.8, 1817.7, 1822.5, 1825.6,
          1827.9, 1831.4, 1838.0, 1843.3, 1850.0, 1858.8, 1871.2, 1875.6, 1880.9, 1885.4,
          1890.7, 1892.9, 1895.1, 1898.7, 1903.1, 1909.7, 1912.8, 1917.2, 1923.0, 1926.5,
          1933.2]
cy_mac_i = list(range(0, 42, 2)) + list(range(41, 60, 2))
cy_mac = [1867.7, 1872.1, 1876.5, 1880.9, 1884.5, 1886.7, 1888.5, 1889.8, 1890.7, 1891.1,
          1891.6, 1891.1, 1890.7, 1890.2, 1889.8, 1889.8, 1890.2, 1890.7, 1891.1, 1891.6,
          1891.6, 1891.1, 1888.5, 1886.3, 1884.1, 1882.3, 1880.9, 1879.2, 1876.9, 1876.1,
          1876.1]
cy_mal_i = [0, 14, 18, 23, 28, 33, 38, 43, 48, 53, 56, 59]
cy_mal = [1750.4, 1750.4, 1754.0, 1758.4, 1763.7, 1769.0, 1773.9, 1779.2, 1785.8, 1796.9,
          1803.5, 1809.3]
cy_vma5_i = [0, 2, 3, 5, 7, 9, 10, 11, 12, 14, 16, 17, 18, 19, 21, 23, 25, 26, 27, 28,
             30, 31, 32, 33, 34, 35, 36, 37, 39, 41, 42, 43, 45, 46, 47, 48, 49, 50, 51, 53,
             54, 56, 57, 58]
cy_vma5 = [7521, 7521, 7695, 8174, 8043, 7956, 7695, 7521, 7826, 8695,
           9522, 9782, 9782, 9348, 9435, 9695, 10435, 10739, 11609, 11956,
           13043, 13348, 13043, 12739, 12478, 11739, 11435, 11087, 11087, 11435,
           10652, 10435, 9695, 8913, 8695, 9348, 9782, 10130, 9869, 9348,
           8913, 8782, 8913, 9348]
cy_vma10_i = [0, 4, 8, 12, 16, 20, 24, 28, 30, 32, 34, 36, 38, 40, 42, 44, 46, 48, 50, 52,
              54, 56, 58, 59]
cy_vma10 = [7608, 7826, 7826, 8043, 8913, 9565, 9869, 10739, 11000, 11739,
            12304, 12391, 12304, 11956, 11522, 10652, 10000, 9913, 9565, 9435,
            9261, 9130, 9348, 9130]

# top of the dotted marker box over the last volume bar
box_tops = [17298, 23932, 40769, 14348]

fig = plt.figure(figsize=(W / 100, H / 100), dpi=100)
fig.patch.set_facecolor("white")


def add_ax(x0, x1, y0, y1):
    return fig.add_axes([x0 / W, 1 - y1 / H, (x1 - x0) / W, (y1 - y0) / H])


def style(ax, ylim, ticks, grid, pad):
    ax.set_xlim(-0.4, 62.6)
    ax.set_ylim(ylim)
    ax.set_xticks([])
    ax.yaxis.tick_right()
    ax.set_yticks(ticks)
    ax.set_yticklabels([str(t) for t in ticks])
    ax.tick_params(axis="y", length=0, pad=pad, labelsize=9.5, labelcolor=LABEL)
    plt.setp(ax.get_yticklabels(), ha="right")
    for g in grid:
        ax.axhline(g, color="#7A7A7A", lw=0.9, ls=(0, (1, 2.5)), zorder=1)
    for s in ax.spines.values():
        s.set_color(FRAME)
        s.set_linewidth(1.0)


def draw_price(ax, o, h, l, c, lines):
    for i in range(len(o)):
        col = RED if c[i] > o[i] else GREEN
        ax.plot([i, i], [l[i], h[i]], color=col, lw=0.9, zorder=2)
        lo, hi = min(o[i], c[i]), max(o[i], c[i])
        ax.add_patch(Rectangle((i - 0.31, lo), 0.62, hi - lo, fc=col, ec=col, lw=0.7, zorder=3))
    for xs, ys, col, lw in lines:
        ax.plot(xs, ys, color=col, lw=lw, zorder=4)


def draw_volume(ax, o, c, v, m5i, m5, m10i, m10, top):
    cols = [RED if c[i] > o[i] else GREEN for i in range(len(v))]
    ax.bar(range(len(v)), v, width=0.62, color=cols, zorder=2)
    ax.plot(m10i, m10, color="#808080", lw=1.0, zorder=3)
    ax.plot(m5i, m5, color="#FF00FF", lw=1.0, zorder=4)
    n = len(v) - 1
    ax.add_patch(Rectangle((n - 0.33, v[n]), 0.66, top - v[n], fill=False,
                           ec="#C8C000", ls=":", lw=0.9, zorder=5))


def title(y, parts, first_bg=None):
    for k, (s, x, col, size) in enumerate(parts):
        kw = {}
        if k == 0 and first_bg:
            kw["bbox"] = dict(boxstyle="square,pad=0.12", fc=first_bg, ec="none")
        fig.text(x / W, 1 - y / H, s, color=col, fontsize=size, va="center", ha="left",
                 family=CJK, **kw)


def x1000(xc, yc):
    fig.text(xc / W, 1 - yc / H, "X1000", color="#707070", fontsize=8.5, ha="center",
             va="center", bbox=dict(boxstyle="square,pad=0.15", fc="white", ec="#909090", lw=0.9))


def ma_lines(m5, m10i, m10, m20i, m20, mri, mr, mgi, mg, mci, mc, mli, ml):
    return [
        (mli, ml, "#000080", 1.5),
        (mci, mc, "#00FFFF", 1.1),
        (mgi, mg, "#008000", 1.1),
        (mri, mr, "#800000", 1.1),
        (m20i, m20, "#8C8C8C", 0.9),
        (m10i, m10, "#FF00FF", 0.9),
        (list(range(len(m5))), m5, "#000080", 0.9),
    ]


# ----- 沪深300 (top left) -----
ax = add_ax(5, 635, 1, 285)
draw_price(ax, hs_open, hs_high, hs_low, hs_close,
           ma_lines(hs_ma5, hs_ma10_i, hs_ma10, hs_ma20_i, hs_ma20, hs_mar_i, hs_mar,
                    hs_mag_i, hs_mag, hs_mac_i, hs_mac, hs_mal_i, hs_mal))
style(ax, (3471.6, 4025.4), list(range(3500, 3901, 50)), list(range(3500, 3901, 100)), 33)
ax = add_ax(5, 635, 285, 380)
draw_volume(ax, hs_open, hs_close, hs_vol, hs_vma5_i, hs_vma5, hs_vma10_i, hs_vma10, box_tops[0])
style(ax, (-459, 25216), [10000, 20000], [10000, 20000], 33)

# ----- 上证指数 (top right) -----
ax = add_ax(686, 1315, 1, 285)
draw_price(ax, sh_open, sh_high, sh_low, sh_close,
           ma_lines(sh_ma5, sh_ma10_i, sh_ma10, sh_ma20_i, sh_ma20, sh_mar_i, sh_mar,
                    sh_mag_i, sh_mag, sh_mac_i, sh_mac, sh_mal_i, sh_mal))
style(ax, (2727.7, 3067.4), list(range(2750, 3051, 50)), list(range(2750, 3001, 50)), 34.5)
ax = add_ax(686, 1315, 285, 380)
draw_volume(ax, sh_open, sh_close, sh_vol, sh_vma5_i, sh_vma5, sh_vma10_i, sh_vma10, box_tops[1])
style(ax, (-260, 35098), [15000], [15000], 34.5)

# ----- 深证综指 (bottom left) -----
ax = add_ax(5, 635, 381, 668)
draw_price(ax, sz_open, sz_high, sz_low, sz_close,
           ma_lines(sz_ma5, sz_ma10_i, sz_ma10, sz_ma20_i, sz_ma20, sz_mar_i, sz_mar,
                    sz_mag_i, sz_mag, sz_mac_i, sz_mac, sz_mal_i, sz_mal))
style(ax, (1453.0, 1713.5), list(range(1500, 1651, 25)), list(range(1500, 1651, 50)), 33)
ax = add_ax(5, 635, 668, 764)
draw_volume(ax, sz_open, sz_close, sz_vol, sz_vma5_i, sz_vma5, sz_vma10_i, sz_vma10, box_tops[2])
style(ax, (5899, 43205), [15000, 30000], [15000, 30000], 33)

# ----- 创业板综 (bottom right) -----
ax = add_ax(686, 1315, 381, 668)
draw_price(ax, cy_open, cy_high, cy_low, cy_close,
           ma_lines(cy_ma5, cy_ma10_i, cy_ma10, cy_ma20_i, cy_ma20, cy_mar_i, cy_mar,
                    cy_mag_i, cy_mag, cy_mac_i, cy_mac, cy_mal_i, cy_mal))
style(ax, (1719.9, 2100.9), list(range(1750, 2051, 50)), list(range(1750, 2051, 50)), 34.5)
ax = add_ax(686, 1315, 668, 764)
draw_volume(ax, cy_open, cy_close, cy_vol, cy_vma5_i, cy_vma5, cy_vma10_i, cy_vma10, box_tops[3])
style(ax, (1956, 14609), [5000, 10000], [5000, 10000], 34.5)

# titles
title(8, [("沪深300 (日线)", 7, "black", 8.2), ("3923.76 -0.07%", 90, GREEN, 8.6),
          ("▼-2.83", 182, GREEN, 8.6), ("成交额", 225, "black", 7.8),
          ("860.9107亿", 262, AMOUNT, 8.6)], first_bg="#00FFFF")
title(8, [("上证指数 (日线)", 688, "black", 7.8), ("2968.05 -0.40%", 772, GREEN, 8.6),
          ("▼-12.00", 864, GREEN, 8.6), ("成交额", 913, "black", 7.8),
          ("1181.1303亿", 950, AMOUNT, 8.6)])
title(390, [("深证综指 (日线)", 5, "black", 7.8), ("1653.37 -0.29%", 92, GREEN, 8.6),
            ("▼-4.87", 183, GREEN, 8.6), ("成交额", 225, "black", 7.8),
            ("2176.5228亿", 264, AMOUNT, 8.6)])
title(390, [("创业板综 (日线)", 688, "black", 7.8), ("2011.90 -0.59%", 772, GREEN, 8.6),
            ("▼-11.95", 864, GREEN, 8.6), ("成交额", 913, "black", 7.8),
            ("772.9605亿", 950, AMOUNT, 8.6)])

x1000(655, 373)
x1000(1335, 373)
x1000(655, 756)
x1000(1335, 756)

# window edges
fig.patches.append(Rectangle((0, 0), 3 / W, 1, transform=fig.transFigure, fc="#D4D0C8", ec="none"))
fig.patches.append(Rectangle((0, 0), 1, 3 / H, transform=fig.transFigure, fc="#D4D0C8", ec="none"))

fig.savefig("out.png", dpi=100)
